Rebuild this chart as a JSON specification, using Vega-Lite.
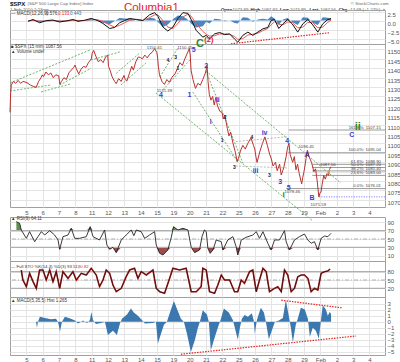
{
"$schema":"https://vega.github.io/schema/vega-lite/v6.json",
"padding":{"left":7,"top":0,"right":0,"bottom":0},
"autosize":{"type":"pad"},
"background":"#ffffff",
"bounds":"flush",
"spacing":0,
"config":{"font":"Liberation Sans","view":{"stroke":"#a0a0a0"},
"axis":{"gridColor":"#e4e4e4","labelFontSize":6,"labelColor":"#555555","labelFont":"Liberation Sans","ticks":false,"domain":false,"title":null,"labelFlush":false,"labelOverlap":false,"labelBound":false,"tickCount":100}},
"resolve":{"scale":{"x":"independent","y":"independent"},"axis":{"x":"independent","y":"independent"}},
"datasets":{
"header":[
{"t":0,"r":"a","txt":"$SPX","k":"b"},
{"t":1.07,"r":"a","txt":"(S&P 500 Large Cap Index) Index","k":"g"},
{"t":0,"r":"c","txt":"1-Feb-2010 1:23pm","k":"g"},
{"t":6.97,"r":"b","txt":"Columbia1","k":"title"},
{"t":20.86,"r":"a","txt":"© StockCharts.com","k":"g"},
{"t":12.91,"r":"c","txt":"Open","k":"b2"},
{"t":13.62,"r":"c","txt":"1073.89","k":"g"},
{"t":14.72,"r":"c","txt":"High","k":"b2"},
{"t":15.39,"r":"c","txt":"1087.83","k":"g"},
{"t":16.53,"r":"c","txt":"Low","k":"b2"},
{"t":17.13,"r":"c","txt":"1073.89","k":"g"},
{"t":18.33,"r":"c","txt":"Last","k":"b2"},
{"t":18.98,"r":"c","txt":"1087.56","k":"g"},
{"t":20.12,"r":"c","txt":"Chg","k":"b2"},
{"t":20.67,"r":"c","txt":"+13.69 (+1.27%) ▲","k":"g"}
],
"macd":[
{"t":1.10,"m":-0.2,"s":-0.1,"h":-0.1},{"t":1.41,"m":0.3,"s":0.05,"h":0.25},{"t":1.82,"m":-0.6,"s":-0.2,"h":-0.4},{"t":2.22,"m":0,"s":-0.15,"h":0.15},{"t":2.63,"m":0.15,"s":0,"h":0.15},{"t":3.04,"m":-0.4,"s":-0.15,"h":-0.25},{"t":3.55,"m":0,"s":-0.1,"h":0.1},{"t":3.85,"m":0.3,"s":0.1,"h":0.2},{"t":4.16,"m":-0.2,"s":0.05,"h":-0.25},{"t":4.57,"m":0.1,"s":0,"h":0.1},{"t":4.97,"m":0.6,"s":0.3,"h":0.3},{"t":5.38,"m":0,"s":0.2,"h":-0.2},{"t":5.69,"m":-0.8,"s":-0.2,"h":-0.6},{"t":6.10,"m":-2.2,"s":-1.2,"h":-1.0},{"t":6.40,"m":-1.9,"s":-1.8,"h":-0.1},{"t":6.71,"m":-0.6,"s":-1.3,"h":0.7},{"t":7.02,"m":0,"s":-0.6,"h":0.6},{"t":7.32,"m":0.6,"s":0.1,"h":0.5},{"t":7.73,"m":0.3,"s":0.35,"h":-0.05},{"t":8.13,"m":0,"s":0.1,"h":-0.1},{"t":8.54,"m":1.6,"s":0.8,"h":0.8},{"t":8.85,"m":2.2,"s":1.6,"h":0.6},{"t":9.05,"m":1.2,"s":1.6,"h":-0.4},{"t":9.36,"m":-1.8,"s":0,"h":-1.8},{"t":9.66,"m":-2.9,"s":-1.8,"h":-1.1},{"t":9.97,"m":-1.8,"s":-2.2,"h":0.4},{"t":10.28,"m":0.6,"s":-0.8,"h":1.4},{"t":10.58,"m":2.2,"s":1.0,"h":1.2},{"t":10.89,"m":2.0,"s":1.8,"h":0.2},{"t":11.09,"m":0.3,"s":1.2,"h":-0.9},{"t":11.39,"m":-2.7,"s":-0.8,"h":-1.9},{"t":11.80,"m":-4.6,"s":-3.0,"h":-1.6},{"t":12.01,"m":-4.1,"s":-3.8,"h":-0.3},{"t":12.21,"m":-5.1,"s":-4.3,"h":-0.8},{"t":12.52,"m":-3.7,"s":-4.2,"h":0.5},{"t":12.83,"m":-3.3,"s":-3.7,"h":0.4},{"t":13.13,"m":-3.9,"s":-3.7,"h":-0.2},{"t":13.44,"m":-3.7,"s":-3.8,"h":0.1},{"t":13.74,"m":-5.1,"s":-4.4,"h":-0.7},{"t":13.94,"m":-6.0,"s":-5.2,"h":-0.8},{"t":14.25,"m":-4.1,"s":-5.0,"h":0.9},{"t":14.56,"m":-3.2,"s":-4.0,"h":0.8},{"t":14.86,"m":-4.1,"s":-3.8,"h":-0.3},{"t":15.17,"m":-3.2,"s":-3.5,"h":0.3},{"t":15.47,"m":-2.3,"s":-2.8,"h":0.5},{"t":15.78,"m":-1.9,"s":-2.2,"h":0.3},{"t":15.98,"m":0,"s":-1.2,"h":1.2},{"t":16.19,"m":0.3,"s":-0.3,"h":0.6},{"t":16.45,"m":-2.2,"s":-1.0,"h":-1.2},{"t":16.70,"m":-0.9,"s":-1.2,"h":0.3},{"t":17.00,"m":0.3,"s":-0.4,"h":0.7},{"t":17.27,"m":-0.9,"s":-0.5,"h":-0.4},{"t":17.61,"m":-3.2,"s":-2.0,"h":-1.2},{"t":17.92,"m":-0.9,"s":-1.8,"h":0.9},{"t":18.23,"m":0.3,"s":-0.5,"h":0.8},{"t":18.53,"m":-1.2,"s":-0.6,"h":-0.6},{"t":18.84,"m":-3.2,"s":-2.0,"h":-1.2},{"t":19.14,"m":-0.9,"s":-1.8,"h":0.9},{"t":19.45,"m":0.3,"s":-0.5,"h":0.8},{"t":19.65,"m":0.58,"s":0.13,"h":0.44}
],
"price":[
{"t":0,"p":1116.6},{"t":0.04,"p":1127},{"t":0.08,"p":1131},{"t":0.2,"p":1133},{"t":0.35,"p":1132},{"t":0.5,"p":1133.5},{"t":0.65,"p":1132},{"t":0.8,"p":1133},{"t":0.98,"p":1132.5},
{"t":1.1,"p":1132},{"t":1.25,"p":1131},{"t":1.4,"p":1130.5},{"t":1.6,"p":1129.8},{"t":1.75,"p":1133},{"t":1.9,"p":1135},{"t":1.98,"p":1136.5},
{"t":2.05,"p":1135.5},{"t":2.2,"p":1138},{"t":2.35,"p":1136.5},{"t":2.5,"p":1137.5},{"t":2.65,"p":1135},{"t":2.8,"p":1136.5},{"t":2.98,"p":1136},
{"t":3.05,"p":1131.5},{"t":3.15,"p":1133},{"t":3.3,"p":1135},{"t":3.45,"p":1134},{"t":3.6,"p":1137.5},{"t":3.75,"p":1139},{"t":3.9,"p":1140.5},{"t":3.98,"p":1141.7},
{"t":4.05,"p":1140},{"t":4.2,"p":1137},{"t":4.35,"p":1139.5},{"t":4.5,"p":1141},{"t":4.65,"p":1140.5},{"t":4.8,"p":1143},{"t":4.98,"p":1145},
{"t":5.03,"p":1148},{"t":5.12,"p":1149.5},{"t":5.25,"p":1146.5},{"t":5.4,"p":1143.5},{"t":5.55,"p":1144.5},{"t":5.7,"p":1143},{"t":5.85,"p":1146},{"t":5.98,"p":1147},
{"t":6.03,"p":1141},{"t":6.12,"p":1139},{"t":6.25,"p":1135.5},{"t":6.4,"p":1133},{"t":6.5,"p":1131.8},{"t":6.65,"p":1134.5},{"t":6.8,"p":1133},{"t":6.98,"p":1136.2},
{"t":7.05,"p":1134},{"t":7.15,"p":1133.2},{"t":7.3,"p":1137},{"t":7.45,"p":1141},{"t":7.55,"p":1139},{"t":7.7,"p":1143.5},{"t":7.85,"p":1146},{"t":7.98,"p":1145.7},
{"t":8.1,"p":1145},{"t":8.25,"p":1147},{"t":8.4,"p":1145.5},{"t":8.55,"p":1147.5},{"t":8.7,"p":1148.5},{"t":8.85,"p":1150.4},{"t":8.98,"p":1148.5},
{"t":9.03,"p":1146},{"t":9.08,"p":1141},{"t":9.15,"p":1136.5},{"t":9.3,"p":1133},{"t":9.45,"p":1131.4},{"t":9.6,"p":1134},{"t":9.75,"p":1132.5},{"t":9.9,"p":1135},{"t":9.98,"p":1136},
{"t":10.1,"p":1137},{"t":10.25,"p":1140},{"t":10.4,"p":1143},{"t":10.55,"p":1141.5},{"t":10.7,"p":1145},{"t":10.85,"p":1148},{"t":10.98,"p":1150.4},
{"t":11.03,"p":1147},{"t":11.08,"p":1139},{"t":11.2,"p":1134},{"t":11.35,"p":1129.3},{"t":11.5,"p":1132},{"t":11.65,"p":1131},{"t":11.8,"p":1134},{"t":11.98,"p":1138},
{"t":12.03,"p":1140.5},{"t":12.06,"p":1141.5},{"t":12.12,"p":1133},{"t":12.2,"p":1126},{"t":12.3,"p":1123},{"t":12.4,"p":1125},{"t":12.5,"p":1120.5},{"t":12.6,"p":1124.5},{"t":12.7,"p":1120},{"t":12.85,"p":1117},{"t":12.98,"p":1116.5},
{"t":13.05,"p":1113},{"t":13.15,"p":1115},{"t":13.3,"p":1108},{"t":13.4,"p":1104},{"t":13.5,"p":1106},{"t":13.65,"p":1100},{"t":13.8,"p":1095},{"t":13.9,"p":1090.3},{"t":13.98,"p":1092},
{"t":14.1,"p":1096},{"t":14.25,"p":1099},{"t":14.4,"p":1097},{"t":14.55,"p":1100},{"t":14.75,"p":1103},{"t":14.9,"p":1099},{"t":14.98,"p":1097},
{"t":15.05,"p":1093},{"t":15.12,"p":1089.9},{"t":15.3,"p":1096},{"t":15.45,"p":1100},{"t":15.6,"p":1103.5},{"t":15.75,"p":1099},{"t":15.9,"p":1094},{"t":15.98,"p":1092.2},
{"t":16.1,"p":1088},{"t":16.25,"p":1090},{"t":16.35,"p":1085.5},{"t":16.5,"p":1089},{"t":16.6,"p":1083.2},{"t":16.75,"p":1087},{"t":16.9,"p":1093},{"t":16.98,"p":1097.5},
{"t":17.03,"p":1099},{"t":17.07,"p":1100.2},{"t":17.15,"p":1094},{"t":17.3,"p":1090},{"t":17.4,"p":1093},{"t":17.5,"p":1086},{"t":17.6,"p":1089},{"t":17.7,"p":1084},{"t":17.85,"p":1078.5},{"t":17.92,"p":1082},{"t":17.98,"p":1084.5},
{"t":18.05,"p":1088},{"t":18.12,"p":1092},{"t":18.2,"p":1096.4},{"t":18.3,"p":1093},{"t":18.45,"p":1090},{"t":18.6,"p":1085},{"t":18.7,"p":1086.5},{"t":18.8,"p":1080},{"t":18.9,"p":1071.6},{"t":18.98,"p":1073.9},
{"t":19.03,"p":1074},{"t":19.1,"p":1078},{"t":19.2,"p":1083},{"t":19.3,"p":1081},{"t":19.4,"p":1084},{"t":19.5,"p":1083},{"t":19.55,"p":1086},{"t":19.63,"p":1087.6}
],
"glines":[
{"id":"g1","t":0,"p":1132.2},{"id":"g1","t":4.89,"p":1149.7},
{"id":"g2","t":0,"p":1127.9},{"id":"g2","t":2.51,"p":1131.1},
{"id":"g3","t":1.9,"p":1127.4},{"id":"g3","t":3.67,"p":1131.6},
{"id":"g4","t":4.95,"p":1144.4},{"id":"g4","t":6.73,"p":1148.7},
{"id":"g5","t":3.04,"p":1131.1},{"id":"g5","t":4.97,"p":1140.0},
{"id":"g6","t":6.5,"p":1137.3},{"id":"g6","t":7.93,"p":1148.0},
{"id":"g7","t":6.79,"p":1131.1},{"id":"g7","t":8.32,"p":1142.8},
{"id":"g8","t":9.17,"p":1135.4},{"id":"g8","t":10.28,"p":1150.8},
{"id":"g9","t":9.36,"p":1128.5},{"id":"g9","t":11.01,"p":1144.4},
{"id":"g10","t":8.93,"p":1126.9},{"id":"g10","t":18.53,"p":1058.8},
{"id":"g11","t":11.99,"p":1138.6},{"id":"g11","t":20.24,"p":1079.0},
{"id":"g12","t":11.99,"p":1138.6},{"id":"g12","t":14.25,"p":1089.6},
{"id":"g13","t":11.19,"p":1127.4},{"id":"g13","t":13.94,"p":1090.2}
],
"tlines":[
{"id":"t1","t":13.82,"p":1101.0},{"id":"t1","t":17.0,"p":1103.6},
{"id":"t2","t":13.82,"p":1088.0},{"id":"t2","t":17.0,"p":1087.0}
],
"fib":[
{"t1":17.06,"t2":22.95,"p":1107.15,"label":"161.8%: 1107.15"},
{"t1":17.0,"t2":22.95,"p":1095.04,"label":"100.0%: 1095.04"},
{"t1":18.5,"t2":22.95,"p":1088.9,"label":"61.8%: 1088.90"},
{"t1":18.5,"t2":22.95,"p":1087.2,"label":"50.0%: 1087.20"},
{"t1":18.5,"t2":22.95,"p":1085.4,"label":"38.2%: 1085.40"},
{"t1":18.5,"t2":22.95,"p":1083.0,"label":"23.6%: 1083.00"},
{"t1":16.9,"t2":22.95,"p":1076.0,"label":"0.0%: 1076.01"}
],
"notes":[
{"t":9.24,"p":1125.8,"txt":"4","k":"bl"},{"t":11.24,"p":1149.7,"txt":"5","k":"bl"},{"t":10.99,"p":1125.8,"txt":"1","k":"bl"},{"t":12.01,"p":1141.2,"txt":"2","k":"bl"},{"t":12.72,"p":1123.1,"txt":"ii","k":"bl"},{"t":12.29,"p":1111.6,"txt":"i","k":"bl"},{"t":15.03,"p":1085.5,"txt":"iii","k":"bl"},{"t":15.58,"p":1105.4,"txt":"iv","k":"bl"},{"t":16.96,"p":1101.3,"txt":"4","k":"bl"},{"t":16.53,"p":1079.7,"txt":"3","k":"bl"},{"t":17.05,"p":1076.5,"txt":"5","k":"bl"},{"t":18.18,"p":1093.9,"txt":"A","k":"bl"},{"t":18.49,"p":1071.2,"txt":"B","k":"bl"},{"t":20.92,"p":1104.5,"txt":"C","k":"bl"},
{"t":9.66,"p":1144.4,"txt":"4","k":"bk"},{"t":10.13,"p":1146.2,"txt":"3","k":"bk"},{"t":10.28,"p":1140.3,"txt":"1","k":"bk"},{"t":13.17,"p":1114.3,"txt":"2","k":"bk"},{"t":12.99,"p":1101.9,"txt":"1","k":"bk"},{"t":13.74,"p":1087.3,"txt":"3","k":"bk"},{"t":14.8,"p":1103.3,"txt":"4","k":"bk"},{"t":15.88,"p":1083.2,"txt":"3","k":"bk"},
{"t":11.62,"p":1152.9,"txt":"C","k":"gr"},{"t":21.28,"p":1108.6,"txt":"ii","k":"gr"},{"t":16.74,"p":1072.6,"txt":"i","k":"gs"},{"t":12.17,"p":1155.1,"txt":"(2)","k":"rd"},{"t":19.55,"p":1085.6,"txt":"i","k":"ye"},
{"t":8.84,"p":1150.8,"txt":"1150.41","k":"bx"},{"t":9.45,"p":1127.9,"txt":"1131.39","k":"bx"},{"t":10.7,"p":1150.8,"txt":"1150.45","k":"bx"},{"t":18.13,"p":1098.0,"txt":"1096.45","k":"bx"},{"t":19.45,"p":1088.6,"txt":"1087.56","k":"bx"},{"t":17.28,"p":1074.2,"txt":"1078.46","k":"bx"},{"t":18.87,"p":1067.3,"txt":"1071.59","k":"bx"},
{"t":0.06,"p":1151.3,"txt":"■ $SPX (15 min) 1087.56","k":"lg"},{"t":0.06,"p":1148.7,"txt":"▲ Volume undef","k":"lg"}
],
"rsi":[
{"t":0.39,"r":91.8},{"t":0.59,"r":87.7},{"t":0.69,"r":71.7},{"t":1.0,"r":51.6},{"t":1.2,"r":67.7},{"t":1.51,"r":43.6},{"t":1.71,"r":55.6},{"t":1.92,"r":67.7},{"t":2.12,"r":59.6},{"t":2.43,"r":70.1},{"t":2.73,"r":59.6},{"t":2.94,"r":47.6},{"t":3.04,"r":25.1},{"t":3.24,"r":55.6},{"t":3.55,"r":59.6},{"t":3.75,"r":75.7},{"t":3.96,"r":51.6},{"t":4.26,"r":51.6},{"t":4.67,"r":55.6},{"t":4.91,"r":79.7},{"t":5.08,"r":55.6},{"t":5.48,"r":47.6},{"t":5.79,"r":71.7},{"t":5.93,"r":35.5},{"t":6.1,"r":25.1},{"t":6.3,"r":30},{"t":6.5,"r":17.1},{"t":6.81,"r":47.6},{"t":7.11,"r":59.6},{"t":7.42,"r":71.7},{"t":7.58,"r":58},{"t":7.73,"r":71.7},{"t":8.03,"r":67.7},{"t":8.24,"r":51.6},{"t":8.54,"r":59.6},{"t":8.85,"r":67.7},{"t":8.95,"r":35.5},{"t":9.16,"r":15.5},{"t":9.36,"r":11.4},{"t":9.66,"r":23.5},{"t":9.87,"r":54},{"t":10.01,"r":79.7},{"t":10.28,"r":71.7},{"t":10.58,"r":75.7},{"t":10.89,"r":71.7},{"t":11.09,"r":30},{"t":11.3,"r":17.1},{"t":11.6,"r":23.5},{"t":11.75,"r":55.6},{"t":11.9,"r":71.7},{"t":12.01,"r":67.7},{"t":12.11,"r":27.5},{"t":12.25,"r":15.5},{"t":12.42,"r":23.5},{"t":12.62,"r":47.6},{"t":12.93,"r":43.6},{"t":13.03,"r":23.5},{"t":13.33,"r":47.6},{"t":13.64,"r":55.6},{"t":13.84,"r":31.5},{"t":13.94,"r":11.4},{"t":14.15,"r":47.6},{"t":14.45,"r":54},{"t":14.86,"r":59.6},{"t":15.07,"r":67.7},{"t":15.27,"r":51.6},{"t":15.48,"r":67.7},{"t":15.78,"r":39.6},{"t":15.98,"r":23.5},{"t":16.19,"r":47.6},{"t":16.49,"r":47.6},{"t":16.8,"r":70.1},{"t":16.9,"r":43.6},{"t":17.1,"r":23.5},{"t":17.41,"r":47.6},{"t":17.71,"r":55.6},{"t":18.02,"r":62},{"t":18.23,"r":47.6},{"t":18.43,"r":39.6},{"t":18.63,"r":43.6},{"t":18.84,"r":23.5},{"t":19.04,"r":51.6},{"t":19.25,"r":57.2},{"t":19.45,"r":55.6},{"t":19.65,"r":63.7}
],
"sto":[
{"t":0.69,"k":86.1},{"t":0.79,"k":50},{"t":1.0,"k":25.9},{"t":1.2,"k":74.1},{"t":1.41,"k":44},{"t":1.61,"k":19.9},{"t":1.81,"k":86.1},{"t":2.02,"k":86.1},{"t":2.22,"k":50},{"t":2.43,"k":86.1},{"t":2.63,"k":44},{"t":2.83,"k":80.1},{"t":3.04,"k":19.9},{"t":3.24,"k":80.1},{"t":3.55,"k":56},{"t":3.85,"k":80.1},{"t":4.06,"k":50},{"t":4.36,"k":74.1},{"t":4.67,"k":68.1},{"t":4.97,"k":92.2},{"t":5.28,"k":68.1},{"t":5.48,"k":25.9},{"t":5.69,"k":50},{"t":5.89,"k":86.1},{"t":6.1,"k":74.1},{"t":6.3,"k":31.9},{"t":6.5,"k":7.8},{"t":6.81,"k":19.9},{"t":7.11,"k":62},{"t":7.32,"k":86.1},{"t":7.62,"k":92.2},{"t":7.83,"k":56},{"t":8.03,"k":80.1},{"t":8.34,"k":68.1},{"t":8.75,"k":86.1},{"t":8.95,"k":19.9},{"t":9.16,"k":7.8},{"t":9.46,"k":1.8},{"t":9.77,"k":56},{"t":9.97,"k":92.2},{"t":10.38,"k":86.1},{"t":10.78,"k":92.2},{"t":11.09,"k":7.8},{"t":11.4,"k":7.8},{"t":11.7,"k":25.9},{"t":11.8,"k":92.2},{"t":12.01,"k":86.1},{"t":12.21,"k":7.8},{"t":12.52,"k":1.8},{"t":12.72,"k":31.9},{"t":12.93,"k":68.1},{"t":13.13,"k":50},{"t":13.44,"k":50},{"t":13.74,"k":7.8},{"t":13.94,"k":7.8},{"t":14.15,"k":50},{"t":14.35,"k":38},{"t":14.66,"k":80.1},{"t":14.86,"k":86.1},{"t":15.07,"k":7.8},{"t":15.27,"k":50},{"t":15.48,"k":92.2},{"t":15.68,"k":80.1},{"t":15.88,"k":7.8},{"t":16.19,"k":19.9},{"t":16.39,"k":25.9},{"t":16.6,"k":7.8},{"t":16.8,"k":86.1},{"t":17.0,"k":68.1},{"t":17.21,"k":7.8},{"t":17.41,"k":19.9},{"t":17.61,"k":62},{"t":17.82,"k":68.1},{"t":18.02,"k":68.1},{"t":18.23,"k":56},{"t":18.43,"k":7.8},{"t":18.63,"k":19.9},{"t":18.84,"k":13.9},{"t":19.04,"k":74.1},{"t":19.25,"k":80.1},{"t":19.45,"k":82.5},{"t":19.59,"k":89.8}
],
"hist":[
{"t":1.59,"h":0},{"t":1.65,"h":-1.0},{"t":1.71,"h":0},{"t":1.83,"h":0.8},{"t":2.14,"h":0.6},{"t":2.51,"h":0.4},{"t":2.81,"h":0.5},{"t":2.94,"h":0},{"t":3.06,"h":-1.6},{"t":3.18,"h":0},{"t":3.36,"h":0.8},{"t":3.73,"h":0.5},{"t":3.98,"h":0.2},{"t":4.16,"h":-0.3},{"t":4.47,"h":0.2},{"t":4.71,"h":-0.2},{"t":4.89,"h":0.3},{"t":4.98,"h":1.6},{"t":5.08,"h":0.3},{"t":5.26,"h":-0.4},{"t":5.57,"h":-0.2},{"t":5.81,"h":0},{"t":5.99,"h":-2.2},{"t":6.30,"h":-1.5},{"t":6.54,"h":-2.2},{"t":6.73,"h":-0.3},{"t":6.85,"h":0.5},{"t":7.16,"h":1.2},{"t":7.40,"h":2.2},{"t":7.58,"h":1.5},{"t":7.83,"h":1.0},{"t":8.07,"h":0.3},{"t":8.26,"h":-0.3},{"t":8.75,"h":-0.2},{"t":8.93,"h":0},{"t":9.05,"h":-3.6},{"t":9.24,"h":-2.0},{"t":9.42,"h":-0.5},{"t":9.60,"h":0},{"t":9.79,"h":1.5},{"t":10.03,"h":3.4},{"t":10.21,"h":2.2},{"t":10.46,"h":0.5},{"t":10.64,"h":0},{"t":10.83,"h":-2.0},{"t":11.07,"h":-5.0},{"t":11.32,"h":-3.0},{"t":11.50,"h":-1.0},{"t":11.62,"h":0},{"t":11.80,"h":1.9},{"t":12.05,"h":1.2},{"t":12.17,"h":0},{"t":12.29,"h":-4.7},{"t":12.54,"h":-2.5},{"t":12.78,"h":-0.5},{"t":12.91,"h":0.5},{"t":13.09,"h":2.2},{"t":13.39,"h":1.5},{"t":13.64,"h":0.3},{"t":13.76,"h":-1.0},{"t":13.94,"h":-3.0},{"t":14.07,"h":-1.0},{"t":14.19,"h":0.5},{"t":14.36,"h":1.1},{"t":14.56,"h":0.8},{"t":14.80,"h":1.4},{"t":14.92,"h":0.2},{"t":14.98,"h":-2.0},{"t":15.11,"h":0.3},{"t":15.35,"h":2.3},{"t":15.54,"h":1.5},{"t":15.66,"h":0},{"t":15.84,"h":-2.9},{"t":16.02,"h":-1.5},{"t":16.21,"h":0},{"t":16.45,"h":0.2},{"t":16.70,"h":0.6},{"t":16.88,"h":3.6},{"t":17.06,"h":1.0},{"t":17.19,"h":-1.0},{"t":17.31,"h":-3.4},{"t":17.49,"h":-0.5},{"t":17.61,"h":0.5},{"t":17.80,"h":2.3},{"t":18.04,"h":2.0},{"t":18.23,"h":0.5},{"t":18.35,"h":-2.5},{"t":18.53,"h":-1.0},{"t":18.72,"h":-1.5},{"t":18.90,"h":-2.8},{"t":19.02,"h":0},{"t":19.14,"h":2.7},{"t":19.33,"h":2.0},{"t":19.45,"h":1.0},{"t":19.57,"h":1.6},{"t":19.65,"h":1.27}
]
},
"vconcat":[
{
"width":375,"height":10,"view":{"stroke":null},
"data":{"name":"header"},
"encoding":{
"x":{"field":"t","type":"quantitative","scale":{"domain":[0,22.95],"nice":false,"zero":false},"axis":null},
"y":{"field":"r","type":"ordinal","scale":{"type":"point","domain":["a","b","c"],"range":[3.5,9.5],"padding":0},"axis":null},
"text":{"field":"txt"}
},
"layer":[
{"transform":[{"filter":"datum.k=='b'"}],"mark":{"type":"text","align":"left","baseline":"middle","fontSize":6,"fontWeight":"bold","color":"#111111"}},
{"transform":[{"filter":"datum.k=='b2'"}],"mark":{"type":"text","align":"left","baseline":"middle","fontSize":4.4,"fontWeight":"bold","color":"#111111"}},
{"transform":[{"filter":"datum.k=='g'"}],"mark":{"type":"text","align":"left","baseline":"middle","fontSize":4.4,"color":"#666666"}},
{"transform":[{"filter":"datum.k=='title'"}],"mark":{"type":"text","align":"left","baseline":"middle","fontSize":11.5,"color":"#e8221b","dy":1.5}}
]
},
{
"width":375,"height":34,
"layer":[
{"data":{"name":"macd"},"mark":{"type":"area","color":"#4a86c0"},
"encoding":{"x":{"field":"t","type":"quantitative","scale":{"domain":[0,22.95],"nice":false,"zero":false},"axis":{"values":[1,2,3,4,5,6,7,8,9,10,11,12,13,14,15,16,17,18,19,20,21,22],"tickCount":100,"labels":false,"grid":true}},
"y":{"field":"h","type":"quantitative","scale":{"domain":[-6.5,2.94],"nice":false,"zero":false},"axis":{"orient":"right","values":[-5,-2.5,0,2.5],"tickCount":100,"format":".1f","grid":true,"labelPadding":2,"labelOffset":2.5}},
"y2":{"datum":0}}},
{"data":{"name":"macd"},"mark":{"type":"line","color":"#ee5a52","strokeWidth":1},
"encoding":{"x":{"field":"t","type":"quantitative","scale":{"domain":[0,22.95],"nice":false,"zero":false}},
"y":{"field":"s","type":"quantitative","scale":{"domain":[-6.5,2.94],"nice":false,"zero":false}}}},
{"data":{"name":"macd"},"mark":{"type":"line","color":"#111111","strokeWidth":1},
"encoding":{"x":{"field":"t","type":"quantitative","scale":{"domain":[0,22.95],"nice":false,"zero":false}},
"y":{"field":"m","type":"quantitative","scale":{"domain":[-6.5,2.94],"nice":false,"zero":false}}}},
{"data":{"values":[{"t":13.52,"m":-6.43},{"t":19.57,"m":-3.37}]},"mark":{"type":"line","color":"#e8221b","strokeDash":[1.5,1.2],"strokeWidth":1.2},
"encoding":{"x":{"field":"t","type":"quantitative","scale":{"domain":[0,22.95],"nice":false,"zero":false}},
"y":{"field":"m","type":"quantitative","scale":{"domain":[-6.5,2.94],"nice":false,"zero":false}}}},
{"data":{"values":[{"t":0.06,"m":1.9,"txt":"— MACD(12,26,9)","c":"k"},{"t":2.2,"m":1.9,"txt":"0.576,","c":"k"},{"t":2.94,"m":1.9,"txt":"0.133,","c":"r"},{"t":3.67,"m":1.9,"txt":"0.443","c":"b"}]},
"mark":{"type":"text","align":"left","baseline":"middle","fontSize":4.5},
"encoding":{"x":{"field":"t","type":"quantitative","scale":{"domain":[0,22.95],"nice":false,"zero":false}},
"y":{"field":"m","type":"quantitative","scale":{"domain":[-6.5,2.94],"nice":false,"zero":false}},
"text":{"field":"txt"},
"color":{"field":"c","type":"nominal","scale":{"domain":["k","r","b"],"range":["#333333","#e8221b","#2f6fb5"]},"legend":null}}}
]
},
{
"width":375,"height":163,
"layer":[
{"data":{"name":"glines"},"mark":{"type":"line","color":"#4e9e4e","strokeDash":[2,1.5],"strokeWidth":0.8},
"encoding":{"x":{"field":"t","type":"quantitative","scale":{"domain":[0,22.95],"nice":false,"zero":false},"axis":{"values":[1,2,3,4,5,6,7,8,9,10,11,12,13,14,15,16,17,18,19,20,21,22],"tickCount":100,"grid":true,"labelPadding":2,"labelExpr":"['','5','6','7','8','11','12','13','14','15','19','20','21','22','25','26','27','28','29','Feb','2','3','4'][datum.value]"}},
"y":{"field":"p","type":"quantitative","scale":{"domain":[1066.2,1152.9],"nice":false,"zero":false},"axis":{"orient":"right","values":[1070,1075,1080,1085,1090,1095,1100,1105,1110,1115,1120,1125,1130,1135,1140,1145,1150],"tickCount":100,"format":"d","grid":true,"labelPadding":2,"labelOffset":2.5}},
"detail":{"field":"id"}}},
{"data":{"name":"tlines"},"mark":{"type":"line","color":"#a8a8a8","strokeDash":[2,1.5],"strokeWidth":0.8},
"encoding":{"x":{"field":"t","type":"quantitative","scale":{"domain":[0,22.95],"nice":false,"zero":false}},
"y":{"field":"p","type":"quantitative","scale":{"domain":[1066.2,1152.9],"nice":false,"zero":false}},
"detail":{"field":"id"}}},
{"data":{"name":"fib"},"mark":{"type":"rule","color":"#9a9a9a","strokeWidth":1},
"encoding":{"x":{"field":"t1","type":"quantitative","scale":{"domain":[0,22.95],"nice":false,"zero":false}},"x2":{"field":"t2"},
"y":{"field":"p","type":"quantitative","scale":{"domain":[1066.2,1152.9],"nice":false,"zero":false}}}},
{"data":{"values":[{"t1":18.9,"t2":22.95,"p":1071.59}]},"mark":{"type":"rule","color":"#6a6aff","strokeDash":[1,1.5],"strokeWidth":1},
"encoding":{"x":{"field":"t1","type":"quantitative","scale":{"domain":[0,22.95],"nice":false,"zero":false}},"x2":{"field":"t2"},
"y":{"field":"p","type":"quantitative","scale":{"domain":[1066.2,1152.9],"nice":false,"zero":false}}}},
{"data":{"name":"price"},"mark":{"type":"line","color":"#b8312f","strokeWidth":1},
"encoding":{"x":{"field":"t","type":"quantitative","scale":{"domain":[0,22.95],"nice":false,"zero":false}},
"y":{"field":"p","type":"quantitative","scale":{"domain":[1066.2,1152.9],"nice":false,"zero":false}}}},
{"data":{"name":"fib"},"mark":{"type":"text","align":"right","baseline":"bottom","fontSize":4.3,"color":"#444444","dy":-0.3},
"encoding":{"x":{"datum":22.7,"type":"quantitative","scale":{"domain":[0,22.95],"nice":false,"zero":false}},
"y":{"field":"p","type":"quantitative","scale":{"domain":[1066.2,1152.9],"nice":false,"zero":false}},
"text":{"field":"label"}}},
{"data":{"name":"notes"},"transform":[{"filter":"datum.k=='bl'"}],"mark":{"type":"text","align":"center","baseline":"middle","fontSize":7,"fontWeight":"bold","color":"#3a3ad6"},
"encoding":{"x":{"field":"t","type":"quantitative","scale":{"domain":[0,22.95],"nice":false,"zero":false}},"y":{"field":"p","type":"quantitative","scale":{"domain":[1066.2,1152.9],"nice":false,"zero":false}},"text":{"field":"txt"}}},
{"data":{"name":"notes"},"transform":[{"filter":"datum.k=='bk'"}],"mark":{"type":"text","align":"center","baseline":"middle","fontSize":5,"fontWeight":"bold","color":"#222222"},
"encoding":{"x":{"field":"t","type":"quantitative","scale":{"domain":[0,22.95],"nice":false,"zero":false}},"y":{"field":"p","type":"quantitative","scale":{"domain":[1066.2,1152.9],"nice":false,"zero":false}},"text":{"field":"txt"}}},
{"data":{"name":"notes"},"transform":[{"filter":"datum.k=='gr'"}],"mark":{"type":"text","align":"center","baseline":"middle","fontSize":11,"fontWeight":"bold","color":"#2e8b2e"},
"encoding":{"x":{"field":"t","type":"quantitative","scale":{"domain":[0,22.95],"nice":false,"zero":false}},"y":{"field":"p","type":"quantitative","scale":{"domain":[1066.2,1152.9],"nice":false,"zero":false}},"text":{"field":"txt"}}},
{"data":{"name":"notes"},"transform":[{"filter":"datum.k=='gs'"}],"mark":{"type":"text","align":"center","baseline":"middle","fontSize":8,"fontWeight":"bold","color":"#1e7a1e"},
"encoding":{"x":{"field":"t","type":"quantitative","scale":{"domain":[0,22.95],"nice":false,"zero":false}},"y":{"field":"p","type":"quantitative","scale":{"domain":[1066.2,1152.9],"nice":false,"zero":false}},"text":{"field":"txt"}}},
{"data":{"name":"notes"},"transform":[{"filter":"datum.k=='rd'"}],"mark":{"type":"text","align":"center","baseline":"middle","fontSize":7.5,"fontWeight":"bold","color":"#e02020"},
"encoding":{"x":{"field":"t","type":"quantitative","scale":{"domain":[0,22.95],"nice":false,"zero":false}},"y":{"field":"p","type":"quantitative","scale":{"domain":[1066.2,1152.9],"nice":false,"zero":false}},"text":{"field":"txt"}}},
{"data":{"name":"notes"},"transform":[{"filter":"datum.k=='ye'"}],"mark":{"type":"text","align":"center","baseline":"middle","fontSize":6,"fontWeight":"bold","color":"#e6b800"},
"encoding":{"x":{"field":"t","type":"quantitative","scale":{"domain":[0,22.95],"nice":false,"zero":false}},"y":{"field":"p","type":"quantitative","scale":{"domain":[1066.2,1152.9],"nice":false,"zero":false}},"text":{"field":"txt"}}},
{"data":{"name":"notes"},"transform":[{"filter":"datum.k=='bx'"}],"mark":{"type":"text","align":"center","baseline":"middle","fontSize":4.3,"color":"#444444"},
"encoding":{"x":{"field":"t","type":"quantitative","scale":{"domain":[0,22.95],"nice":false,"zero":false}},"y":{"field":"p","type":"quantitative","scale":{"domain":[1066.2,1152.9],"nice":false,"zero":false}},"text":{"field":"txt"}}},
{"data":{"name":"notes"},"transform":[{"filter":"datum.k=='lg'"}],"mark":{"type":"text","align":"left","baseline":"middle","fontSize":4.5,"color":"#333333"},
"encoding":{"x":{"field":"t","type":"quantitative","scale":{"domain":[0,22.95],"nice":false,"zero":false}},"y":{"field":"p","type":"quantitative","scale":{"domain":[1066.2,1152.9],"nice":false,"zero":false}},"text":{"field":"txt"}}}
]
},
{
"width":375,"height":10,"view":{"stroke":null},
"data":{"values":[{"t":0}]},
"mark":{"type":"point","opacity":0},
"encoding":{"x":{"field":"t","type":"quantitative","scale":{"domain":[0,22.95],"nice":false,"zero":false},"axis":null}}
},
{
"width":375,"height":44,
"resolve":{"scale":{"y":"independent"}},
"layer":[
{"data":{"name":"rsi"},"mark":{"type":"area","color":"#5b9148"},
"encoding":{"x":{"field":"t","type":"quantitative","scale":{"domain":[0,22.95],"nice":false,"zero":false},"axis":{"values":[1,2,3,4,5,6,7,8,9,10,11,12,13,14,15,16,17,18,19,20,21,22],"tickCount":100,"labels":false,"grid":true}},
"y":{"field":"r","type":"quantitative","scale":{"domain":[70,103],"range":[13.7,0],"clamp":true,"nice":false,"zero":false},"axis":null},"y2":{"datum":70}}},
{"data":{"name":"rsi"},"mark":{"type":"area","color":"#9e4b4b"},
"encoding":{"x":{"field":"t","type":"quantitative","scale":{"domain":[0,22.95],"nice":false,"zero":false}},
"y":{"field":"r","type":"quantitative","scale":{"domain":[-3,30],"range":[44,30.3],"clamp":true,"nice":false,"zero":false},"axis":null},"y2":{"datum":30}}},
{"layer":[
{"data":{"values":[{"v":70},{"v":30}]},"mark":{"type":"rule","color":"#b0b0b0","strokeWidth":1.2},
"encoding":{"y":{"field":"v","type":"quantitative","scale":{"domain":[-3,103],"nice":false,"zero":false},"axis":{"orient":"right","values":[10,30,50,70,90],"tickCount":100,"format":"d","grid":true,"labelPadding":2}}}},
{"data":{"values":[{"v":50}]},"mark":{"type":"rule","color":"#b0b0b0","strokeWidth":1,"strokeDash":[4,2,1,2]},
"encoding":{"y":{"field":"v","type":"quantitative","scale":{"domain":[-3,103],"nice":false,"zero":false}}}},
{"data":{"name":"rsi"},"mark":{"type":"line","color":"#222222","strokeWidth":0.9},
"encoding":{"x":{"field":"t","type":"quantitative","scale":{"domain":[0,22.95],"nice":false,"zero":false}},
"y":{"field":"r","type":"quantitative","scale":{"domain":[-3,103],"nice":false,"zero":false}}}},
{"data":{"values":[{"t":0.06,"v":99,"txt":"▲ RSI(9) 64.11"}]},"mark":{"type":"text","align":"left","baseline":"middle","fontSize":4.5,"color":"#333333"},
"encoding":{"x":{"field":"t","type":"quantitative","scale":{"domain":[0,22.95],"nice":false,"zero":false}},
"y":{"field":"v","type":"quantitative","scale":{"domain":[-3,103],"nice":false,"zero":false}},"text":{"field":"txt"}}}
]}
]
},
{
"width":375,"height":36,
"layer":[
{"data":{"values":[{"v":80},{"v":20}]},"mark":{"type":"rule","color":"#b0b0b0","strokeWidth":1.2},
"encoding":{"y":{"field":"v","type":"quantitative","scale":{"domain":[-11.4,118.7],"nice":false,"zero":false},"axis":{"orient":"right","values":[20,50,80],"tickCount":100,"format":"d","grid":true,"labelPadding":2}}}},
{"data":{"values":[{"v":50}]},"mark":{"type":"rule","color":"#b0b0b0","strokeWidth":1,"strokeDash":[4,2,1,2]},
"encoding":{"y":{"field":"v","type":"quantitative","scale":{"domain":[-11.4,118.7],"nice":false,"zero":false}}}},
{"data":{"name":"sto"},"mark":{"type":"line","color":"#b01818","strokeWidth":1.6},
"encoding":{"x":{"field":"t","type":"quantitative","scale":{"domain":[0,22.95],"nice":false,"zero":false},"axis":{"values":[1,2,3,4,5,6,7,8,9,10,11,12,13,14,15,16,17,18,19,20,21,22],"tickCount":100,"labels":false,"grid":true}},
"y":{"field":"k","type":"quantitative","scale":{"domain":[-11.4,118.7],"nice":false,"zero":false}}}},
{"data":{"name":"sto"},"mark":{"type":"line","color":"#111111","strokeWidth":0.6},
"encoding":{"x":{"field":"t","type":"quantitative","scale":{"domain":[0,22.95],"nice":false,"zero":false}},
"y":{"field":"k","type":"quantitative","scale":{"domain":[-11.4,118.7],"nice":false,"zero":false}}}},
{"data":{"values":[{"t":0.06,"v":97,"txt":"— Full STO %K(14,3) %D(3) 93.51,","c":"k"},{"t":4.16,"v":97,"txt":"90.82","c":"r"}]},"mark":{"type":"text","align":"left","baseline":"middle","fontSize":4.3},
"encoding":{"x":{"field":"t","type":"quantitative","scale":{"domain":[0,22.95],"nice":false,"zero":false}},
"y":{"field":"v","type":"quantitative","scale":{"domain":[-11.4,118.7],"nice":false,"zero":false}},"text":{"field":"txt"},
"color":{"field":"c","type":"nominal","scale":{"domain":["k","r"],"range":["#333333","#e8221b"]},"legend":null}}}
]
},
{
"width":375,"height":58,
"layer":[
{"data":{"name":"hist"},"mark":{"type":"area","color":"#3b78b0"},
"encoding":{"x":{"field":"t","type":"quantitative","scale":{"domain":[0,22.95],"nice":false,"zero":false},"axis":{"values":[1,2,3,4,5,6,7,8,9,10,11,12,13,14,15,16,17,18,19,20,21,22],"tickCount":100,"grid":true,"labelPadding":1,"labelExpr":"['','5','6','7','8','11','12','13','14','15','19','20','21','22','25','26','27','28','29','Feb','2','3','4'][datum.value]"}},
"y":{"field":"h","type":"quantitative","scale":{"domain":[-5.5,4.08],"nice":false,"zero":false},"axis":{"orient":"right","values":[-5,-4,-3,-2,-1,0,1,2,3],"tickCount":100,"format":"d","grid":true,"labelPadding":2}},
"y2":{"datum":0}}},
{"data":{"values":[{"id":"u","t":16.6,"h":3.55},{"id":"u","t":20.37,"h":2.28},{"id":"l","t":10.46,"h":-5.37},{"id":"l","t":21.18,"h":-2.36}]},"mark":{"type":"line","color":"#e8221b","strokeDash":[1.5,1.2],"strokeWidth":1.2},
"encoding":{"x":{"field":"t","type":"quantitative","scale":{"domain":[0,22.95],"nice":false,"zero":false}},
"y":{"field":"h","type":"quantitative","scale":{"domain":[-5.5,4.08],"nice":false,"zero":false}},"detail":{"field":"id"}}},
{"data":{"values":[{"t":0.06,"h":3.45,"txt":"▲ MACD(5,35,5) Hist 1.265"}]},"mark":{"type":"text","align":"left","baseline":"middle","fontSize":4.5,"color":"#333333"},
"encoding":{"x":{"field":"t","type":"quantitative","scale":{"domain":[0,22.95],"nice":false,"zero":false}},
"y":{"field":"h","type":"quantitative","scale":{"domain":[-5.5,4.08],"nice":false,"zero":false}},"text":{"field":"txt"}}}
]
}
]
}
